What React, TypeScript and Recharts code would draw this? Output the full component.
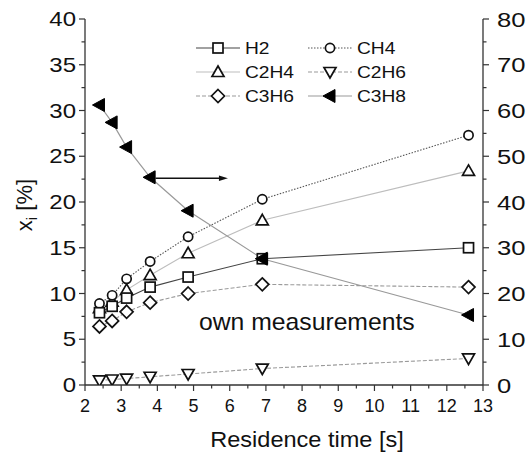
import { LineChart, Line, XAxis, YAxis, ReferenceLine } from "recharts";

// residence time [s]
const times = [2.4, 2.75, 3.15, 3.8, 4.85, 6.9, 12.6];
// mole fractions [%], left axis
const h2 = [7.9, 8.6, 9.5, 10.7, 11.8, 13.8, 15.0];
const ch4 = [8.9, 9.8, 11.6, 13.5, 16.2, 20.3, 27.3];
const c2h4 = [8.4, 9.1, 10.4, 12.0, 14.4, 18.0, 23.4];
const c2h6 = [0.5, 0.6, 0.7, 0.9, 1.2, 1.8, 2.9];
const c3h6 = [6.4, 7.0, 8.0, 9.0, 10.0, 11.0, 10.7];
// C3H8 is read on the right axis
const c3h8 = [61.2, 57.4, 52.0, 45.4, 38.1, 27.6, 15.3];

const xTicks = [2, 2.5, 3, 3.5, 4, 4.5, 5, 5.5, 6, 6.5, 7, 7.5, 8, 8.5, 9, 9.5, 10, 10.5, 11, 11.5, 12, 12.5, 13];
const leftTicks = [0, 2.5, 5, 7.5, 10, 12.5, 15, 17.5, 20, 22.5, 25, 27.5, 30, 32.5, 35, 37.5, 40];
const rightTicks = [0, 5, 10, 15, 20, 25, 30, 35, 40, 45, 50, 55, 60, 65, 70, 75, 80];

const data = times.map((t, i) => ({
  t,
  H2: h2[i],
  CH4: ch4[i],
  C2H4: c2h4[i],
  C2H6: c2h6[i],
  C3H6: c3h6[i],
  C3H8: c3h8[i],
}));

const FONT = "'Liberation Sans', Arial, Helvetica, sans-serif";
const AX = "#333";

type Kind = "square" | "circle" | "up" | "down" | "diamond" | "left";

const series: { key: string; kind: Kind; stroke: string; dash?: string; width: number }[] = [
  { key: "C2H6", kind: "down", stroke: "#9a9a9a", dash: "4 2", width: 1.1 },
  { key: "C3H6", kind: "diamond", stroke: "#9a9a9a", dash: "4 2", width: 1.1 },
  { key: "C2H4", kind: "up", stroke: "#bdbdbd", width: 1.1 },
  { key: "CH4", kind: "circle", stroke: "#555", dash: "1.5 1.5", width: 1.1 },
  { key: "H2", kind: "square", stroke: "#444", width: 1.1 },
];

const Marker = ({ kind, cx, cy }: { kind: Kind; cx: number; cy: number }) => {
  const p = { fill: "#fff", stroke: "#111", strokeWidth: 1.7 };
  switch (kind) {
    case "square":
      return <rect x={cx - 5} y={cy - 5} width={10} height={10} {...p} />;
    case "circle":
      return <circle cx={cx} cy={cy} r={4.6} {...p} />;
    case "up":
      return <path d={`M${cx},${cy - 6} L${cx + 6},${cy + 4.5} L${cx - 6},${cy + 4.5} Z`} {...p} />;
    case "down":
      return <path d={`M${cx - 6},${cy - 4.5} L${cx + 6},${cy - 4.5} L${cx},${cy + 6} Z`} {...p} />;
    case "diamond":
      return <path d={`M${cx},${cy - 6.5} L${cx + 6.5},${cy} L${cx},${cy + 6.5} L${cx - 6.5},${cy} Z`} {...p} />;
    default:
      return <path d={`M${cx - 7},${cy} L${cx + 5},${cy - 6.5} L${cx + 5},${cy + 6.5} Z`} fill="#000" stroke="#000" strokeWidth={1} />;
  }
};

const dotFor = (kind: Kind) => (props: any) => {
  const { cx, cy, index } = props;
  if (cx == null || cy == null) return <g key={index} />;
  return (
    <g key={index}>
      <Marker kind={kind} cx={cx} cy={cy} />
    </g>
  );
};

const SText = ({ x, y, size, sx = 1, anchor = "start", children }: any) => (
  <text
    transform={`translate(${x},${y}) scale(${sx},1)`}
    x={0}
    y={0}
    fontSize={size}
    fontFamily={FONT}
    textAnchor={anchor}
    fill="#111"
  >
    {children}
  </text>
);

const BottomTick = ({ x, y, payload }: any) => {
  const v = payload.value;
  const major = Number.isInteger(v);
  return (
    <g>
      <line x1={x} x2={x} y1={y} y2={y + (major ? 6 : 3.5)} stroke={AX} strokeWidth={1.2} />
      {major && <SText x={x} y={y + 27} size={18} anchor="middle">{v}</SText>}
    </g>
  );
};

const TopTick = ({ x, y, payload }: any) => {
  const major = Number.isInteger(payload.value);
  return <line x1={x} x2={x} y1={y} y2={y + (major ? 6 : 3.5)} stroke={AX} strokeWidth={1.2} />;
};

const LeftTick = ({ x, y, payload }: any) => {
  const v = payload.value;
  const major = v % 5 === 0;
  return (
    <g>
      <line x1={x} x2={x - (major ? 6 : 3.5)} y1={y} y2={y} stroke={AX} strokeWidth={1.2} />
      {major && <SText x={x - 9} y={y + 7} size={20} sx={1.2} anchor="end">{v}</SText>}
    </g>
  );
};

const RightTick = ({ x, y, payload }: any) => {
  const v = payload.value;
  const major = v % 10 === 0;
  return (
    <g>
      <line x1={x} x2={x + (major ? 6 : 3.5)} y1={y} y2={y} stroke={AX} strokeWidth={1.2} />
      {major && <SText x={x + 14} y={y + 7.5} size={21} sx={1.22} anchor="start">{v}</SText>}
    </g>
  );
};

const Arrow = (props: any) => {
  const { x1, y1, x2, y2 } = props;
  return (
    <g>
      <line x1={x1} y1={y1} x2={x2 - 6} y2={y2} stroke="#111" strokeWidth={1.6} />
      <path d={`M${x2},${y2} L${x2 - 9},${y2 - 2.8} L${x2 - 9},${y2 + 2.8} Z`} fill="#111" />
    </g>
  );
};

const legendRows: [string, Kind, string, string | undefined][][] = [
  [["H2", "square", "#444", undefined], ["CH4", "circle", "#555", "1.5 1.5"]],
  [["C2H4", "up", "#bdbdbd", undefined], ["C2H6", "down", "#9a9a9a", "4 2"]],
  [["C3H6", "diamond", "#9a9a9a", "4 2"], ["C3H8", "left", "#999", undefined]],
];

const LegendBox = () => {
  const cols = [196, 308];
  const rowsY = [48, 72, 96];
  return (
    <g>
      {legendRows.map((row, r) =>
        row.map(([name, kind, stroke, dash], c) => {
          const x0 = cols[c];
          const y = rowsY[r];
          return (
            <g key={name}>
              <line x1={x0} x2={x0 + 44} y1={y} y2={y} stroke={stroke} strokeWidth={1.1} strokeDasharray={dash} />
              <Marker kind={kind} cx={x0 + 22} cy={y} />
              <SText x={x0 + 49} y={y + 6} size={16} sx={1.2}>{name}</SText>
            </g>
          );
        })
      )}
    </g>
  );
};

export default function App() {
  return (
    <div style={{ position: "absolute", left: 0, top: 0, width: 532, height: 454, background: "#fff" }}>
      <LineChart width={532} height={454} data={data} margin={{ top: 19, right: 0, bottom: 0, left: 0 }}>
        <XAxis
          xAxisId="bottom"
          dataKey="t"
          type="number"
          domain={[2, 13]}
          allowDataOverflow
          ticks={xTicks}
          interval={0}
          height={69}
          tickSize={0}
          tickMargin={0}
          tickLine={false}
          tick={<BottomTick />}
          axisLine={{ stroke: AX, strokeWidth: 1.3 }}
        />
        <XAxis
          xAxisId="top"
          orientation="top"
          dataKey="t"
          type="number"
          domain={[2, 13]}
          allowDataOverflow
          ticks={xTicks}
          interval={0}
          height={0}
          tickSize={0}
          tickMargin={0}
          tickLine={false}
          tick={<TopTick />}
          axisLine={{ stroke: AX, strokeWidth: 1.3 }}
        />
        <YAxis
          yAxisId="left"
          domain={[0, 40]}
          allowDataOverflow
          ticks={leftTicks}
          interval={0}
          width={85}
          tickSize={0}
          tickMargin={0}
          tickLine={false}
          tick={<LeftTick />}
          axisLine={{ stroke: AX, strokeWidth: 1.3 }}
        />
        <YAxis
          yAxisId="right"
          orientation="right"
          domain={[0, 80]}
          allowDataOverflow
          ticks={rightTicks}
          interval={0}
          width={49}
          tickSize={0}
          tickMargin={0}
          tickLine={false}
          tick={<RightTick />}
          axisLine={{ stroke: AX, strokeWidth: 1.3 }}
        />
        {series.map((s) => (
          <Line
            key={s.key}
            xAxisId="bottom"
            yAxisId="left"
            dataKey={s.key}
            type="linear"
            stroke={s.stroke}
            strokeWidth={s.width}
            strokeDasharray={s.dash}
            dot={dotFor(s.kind)}
            activeDot={false}
            isAnimationActive={false}
          />
        ))}
        <Line
          xAxisId="top"
          yAxisId="right"
          dataKey="C3H8"
          type="linear"
          stroke="#999"
          strokeWidth={1.2}
          dot={dotFor("left")}
          activeDot={false}
          isAnimationActive={false}
        />
        <ReferenceLine
          xAxisId="bottom"
          yAxisId="left"
          segment={[{ x: 3.95, y: 22.6 }, { x: 5.95, y: 22.6 }]}
          shape={<Arrow />}
        />
        <LegendBox />
        <SText x={199} y={330} size={24} sx={1.03}>own measurements</SText>
        <SText x={307} y={447} size={22} sx={1.07} anchor="middle">Residence time [s]</SText>
        <text transform="translate(32,205) rotate(-90)" fontSize={22} fontFamily={FONT} textAnchor="middle" fill="#111">
          x<tspan fontSize={15} dy={5}>i</tspan>
          <tspan dy={-5}> [%]</tspan>
        </text>
      </LineChart>
    </div>
  );
}
